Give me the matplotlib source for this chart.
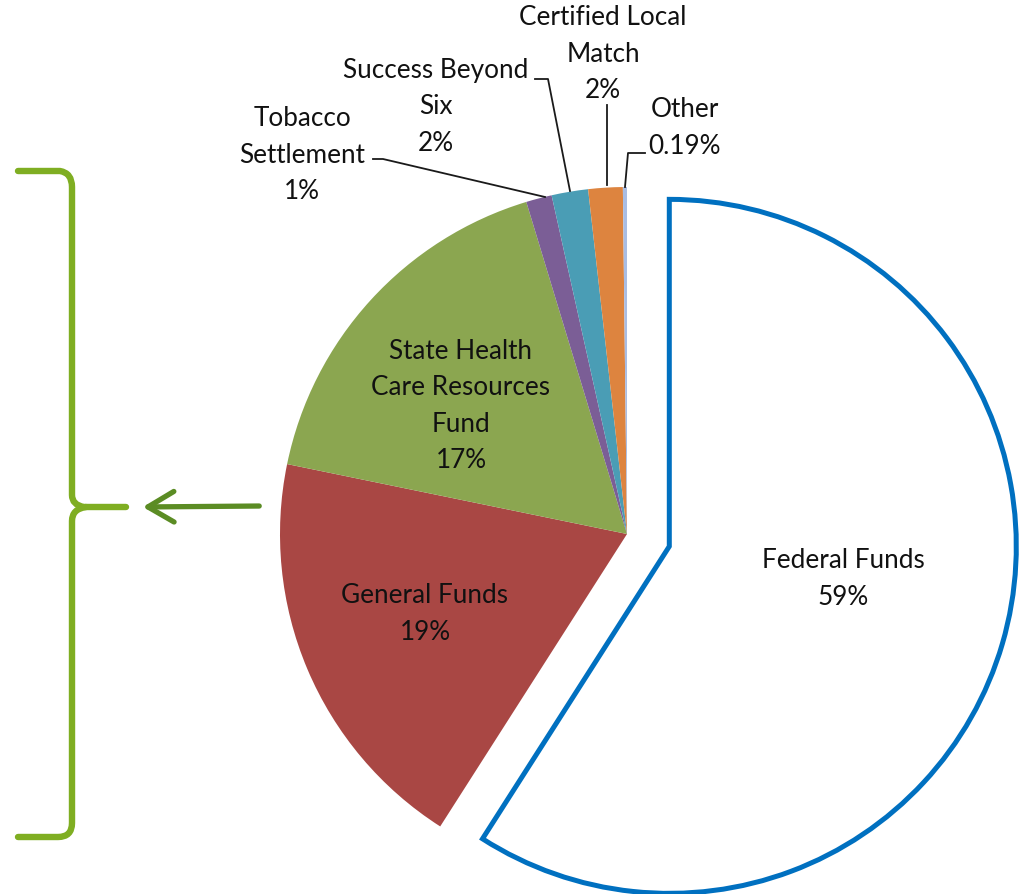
import matplotlib.pyplot as plt
from matplotlib.path import Path
from matplotlib.patches import PathPatch

# funding sources (share of total, %)
sources = ['Federal Funds', 'General Funds', 'State Health\nCare Resources\nFund',
           'Tobacco\nSettlement', 'Success Beyond\nSix', 'Certified Local\nMatch', 'Other']
shares = [59.1, 19.2, 17.1, 1.2, 1.7, 1.6, 0.19]
share_labels = ['59%', '19%', '17%', '1%', '2%', '2%', '0.19%']
colors = ['white', '#A94744', '#8BA650', '#7B5E96', '#4A9DB5', '#DD843F', '#A9BDE3']
explode = [0.127, 0, 0, 0, 0, 0, 0]

W, H = 1023, 895
CX, CY, R = 627, 535, 347

def px(x, y):
    # image pixel -> data coords (pie radius = 1)
    return ((x - CX) / R, (CY - y) / R)

plt.rcParams['font.family'] = ['Lato', 'DejaVu Sans']

fig = plt.figure(figsize=(W / 100, H / 100), dpi=100)
ax = fig.add_axes([0, 0, 1, 1])

wedges, _ = ax.pie(shares, colors=colors, explode=explode, startangle=90,
                   counterclock=False, radius=1)
wedges[0].set_edgecolor('#0070C0')
wedges[0].set_linewidth(3.6)
wedges[0].set_joinstyle('miter')

# pie() resets the limits, so set them afterwards
ax.set_xlim(px(0, 0)[0], px(W, 0)[0])
ax.set_ylim(px(0, H)[1], px(0, 0)[1])
ax.set_aspect('equal')
ax.axis('off')

txt = dict(fontsize=18.8, color='#111111', ha='center', va='center', linespacing=1.58)

# labels inside
ax.text(*px(843, 579), sources[0] + '\n' + share_labels[0], **txt)
ax.text(*px(425, 614), sources[1] + '\n' + share_labels[1], **txt)
ax.text(*px(461, 406), sources[2] + '\n' + share_labels[2], **txt)

# labels outside with leader lines
ax.text(*px(302, 155), sources[3] + '\n' + share_labels[3], **txt)
ax.text(*px(436, 107), sources[4] + '\n' + share_labels[4], **txt)
ax.text(*px(603, 54), sources[5] + '\n' + share_labels[5], **txt)
ax.text(*px(685, 128), sources[6] + '\n' + share_labels[6], **txt)

leaders = [
    [(373, 160), (383, 160), (545, 198)],
    [(535, 80), (548, 80), (570, 192)],
    [(607, 106), (607, 186)],
    [(645, 154), (628, 154), (625, 188)],
]
for pts in leaders:
    xs, ys = zip(*[px(x, y) for x, y in pts])
    ax.plot(xs, ys, color='#1a1a1a', lw=1.3)

# green brace on the left
green = '#7FAE22'
top = [px(18, 172), px(60, 172), px(72, 174), px(72, 188), px(72, 496),
       px(72, 506), px(84, 508), px(126, 508)]
top_codes = [Path.MOVETO, Path.LINETO, Path.CURVE3, Path.CURVE3, Path.LINETO,
             Path.CURVE3, Path.CURVE3, Path.LINETO]
bot = [px(86, 508), px(72, 510), px(72, 522), px(72, 824),
       px(72, 838), px(58, 838), px(18, 838)]
bot_codes = [Path.MOVETO, Path.CURVE3, Path.CURVE3, Path.LINETO,
             Path.CURVE3, Path.CURVE3, Path.LINETO]
for verts, codes in [(top, top_codes), (bot, bot_codes)]:
    ax.add_patch(PathPatch(Path(verts, codes), fill=False, edgecolor=green,
                           lw=4.6, capstyle='round', joinstyle='round'))

ax.annotate('', xy=px(140, 508), xytext=px(262, 507),
            arrowprops=dict(arrowstyle='->,head_length=0.85,head_width=0.5',
                            mutation_scale=22, color='#5B8C24', lw=3.8,
                            capstyle='round', joinstyle='round'))

fig.savefig('out.png', dpi=100, facecolor='white')
